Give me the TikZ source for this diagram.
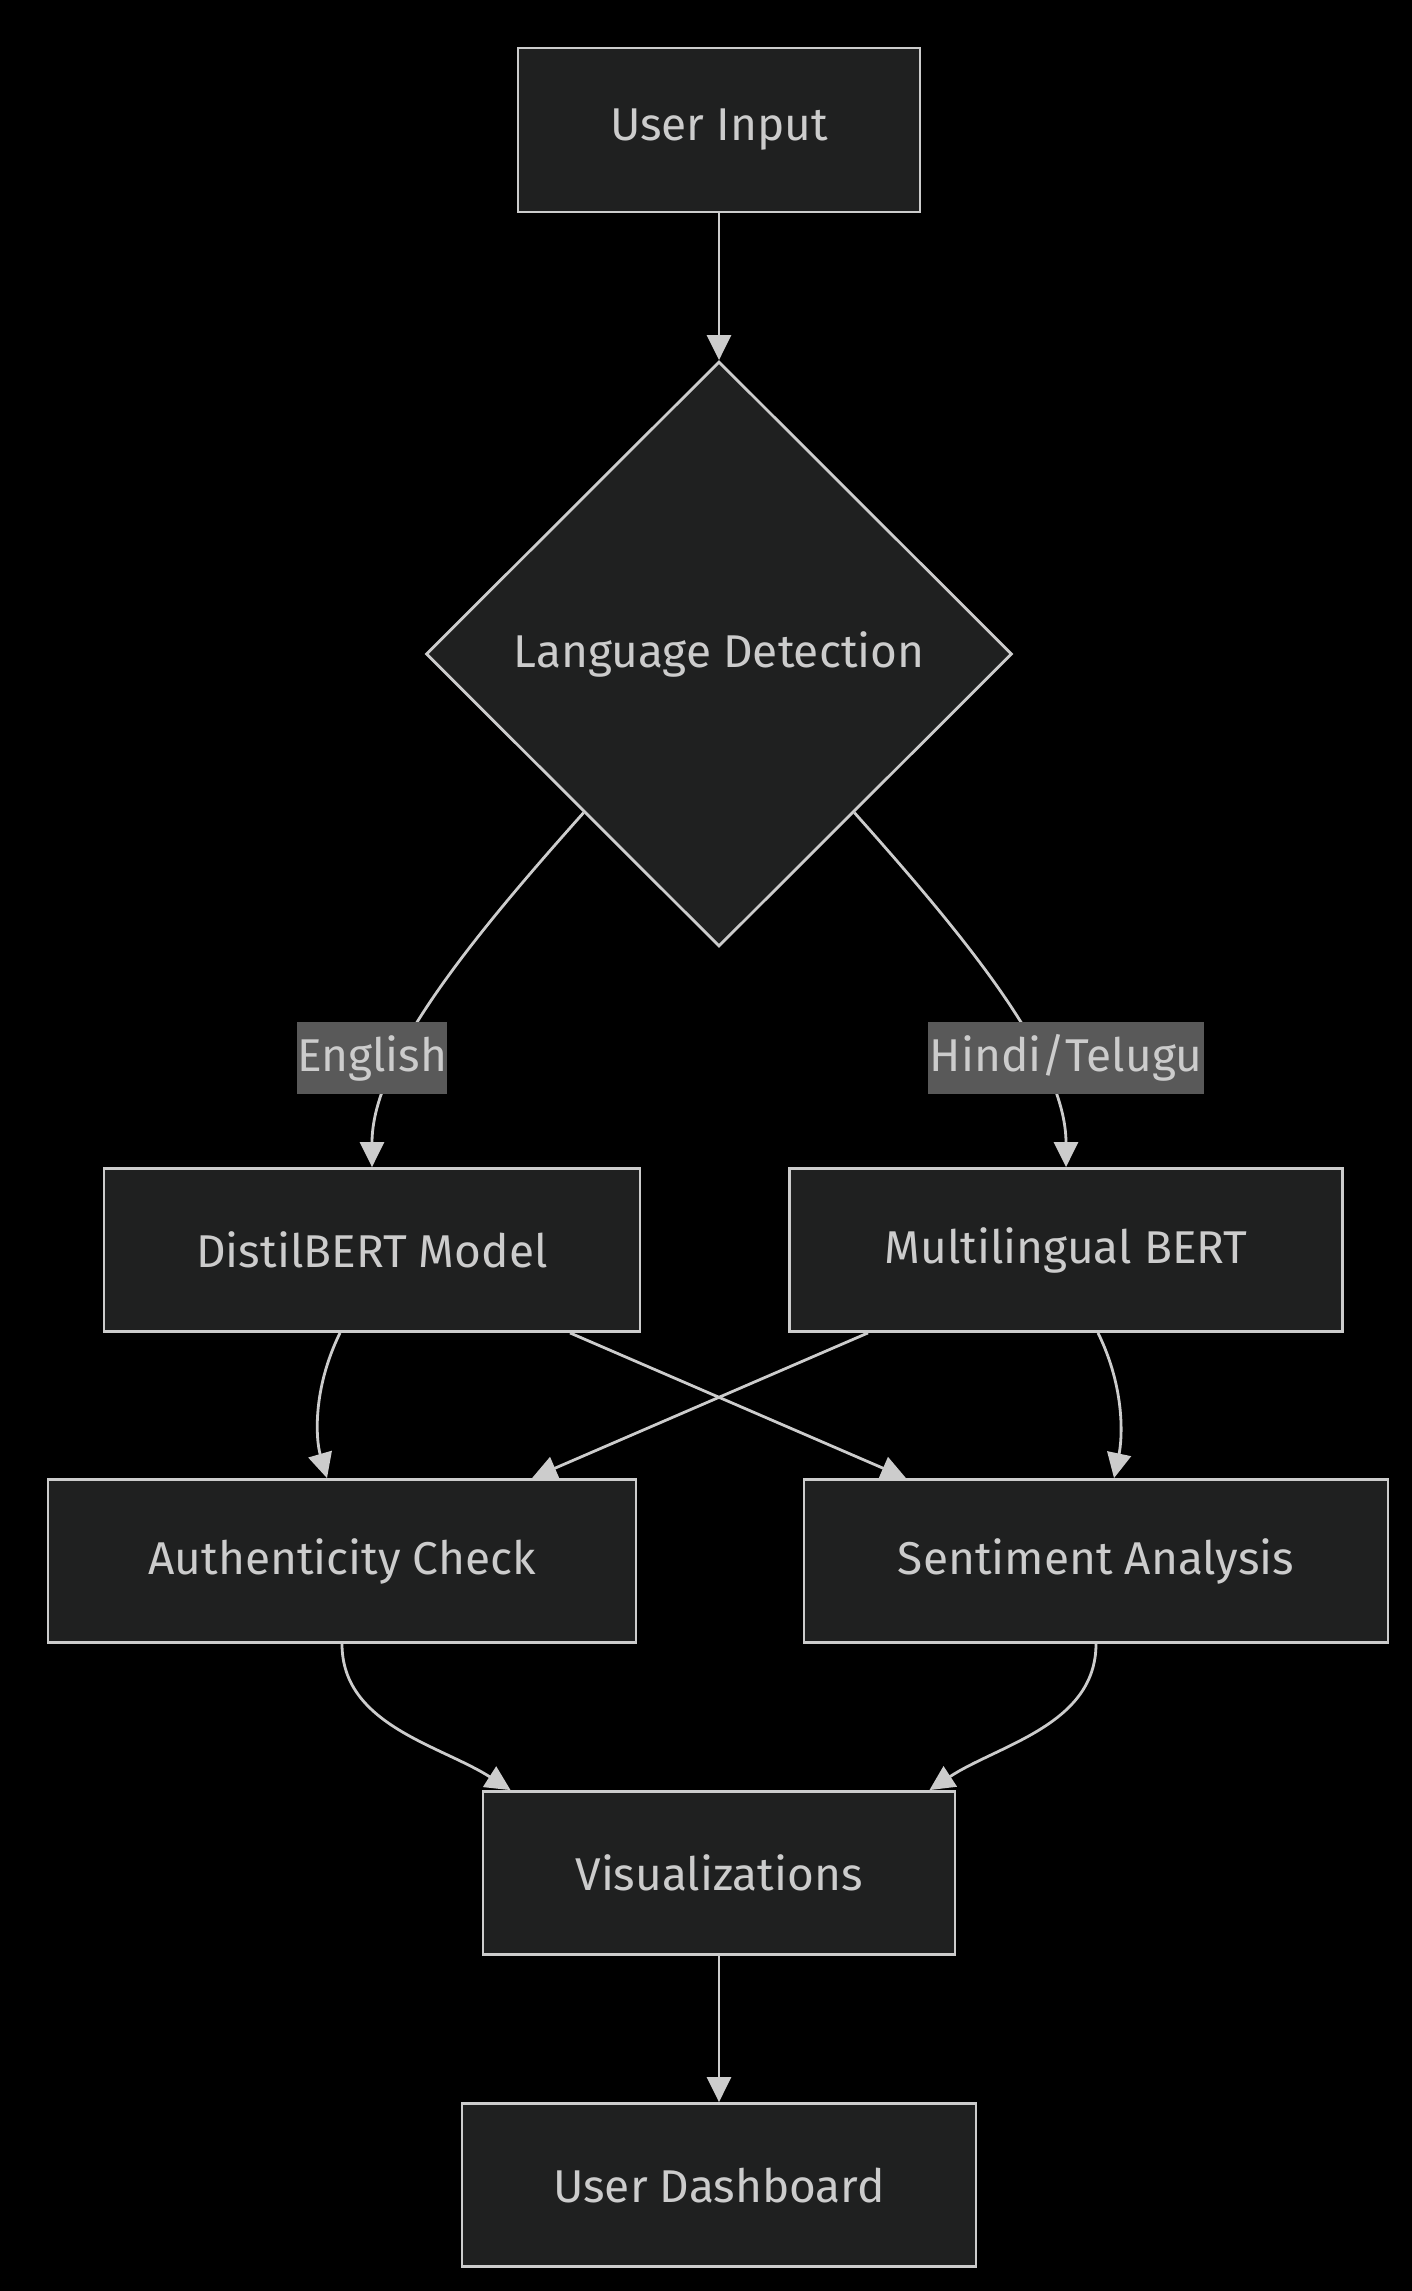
\documentclass[tikz,border=0pt]{standalone}
\usepackage{fontspec}
\setmainfont{Fira Sans}
\usetikzlibrary{shapes.geometric,arrows.meta,calc}
\definecolor{bgc}{HTML}{000000}
\definecolor{boxfill}{HTML}{1F2020}
\definecolor{linec}{HTML}{CCCCCC}
\definecolor{txtc}{HTML}{CCCCCC}
\definecolor{lblfill}{HTML}{595959}
\tikzset{
  box/.style={draw=linec, fill=boxfill, line width=2.8pt, inner sep=0pt, text=txtc,
    font=\fontsize{46}{54}\selectfont, minimum height=163pt},
  decide/.style={diamond, aspect=1, draw=linec, fill=boxfill, line width=2.8pt, inner sep=0pt,
    text=txtc, font=\fontsize{46}{54}\selectfont, minimum width=586pt, minimum height=585pt},
  elabel/.style={fill=lblfill, inner sep=0pt, text=txtc, font=\fontsize{46}{54}\selectfont,
    minimum height=72pt},
  conn/.style={draw=linec, line width=2.8pt, -{Triangle[length=25pt,width=24pt]}}
}
\begin{document}
\begin{tikzpicture}[x=1pt,y=-1pt]
\fill[bgc] (0,0) rectangle (1412,2291);
\useasboundingbox (0,0) rectangle (1412,2291);

\node[box, minimum width=402pt, minimum height=164pt] (inp) at (719,130) {User Input};
\node[decide] (lang) at (719,654) {Language Detection};
\node[box, minimum width=536pt] (dist) at (372,1250) {DistilBERT Model};
\node[box, minimum width=553pt] (mbert) at (1066,1250) {Multilingual BERT};
\node[box, minimum width=588pt] (auth) at (342,1561) {Authenticity Check};
\node[box, minimum width=584pt] (sent) at (1096,1561) {Sentiment Analysis};
\node[box, minimum width=472pt] (vis) at (719,1873) {Visualizations};
\node[box, minimum width=514pt] (dash) at (719,2185) {User Dashboard};

\draw[conn] (inp.south) -- (lang.north);

\coordinate (lsw) at ($(lang.west)!0.54!(lang.south)$);
\coordinate (lse) at ($(lang.east)!0.54!(lang.south)$);
\draw[conn] (lsw) .. controls (470,940) and (372,1060) .. (dist.north);
\draw[conn] (lse) .. controls (968,940) and (1066,1060) .. (mbert.north);
\node[elabel, minimum width=150pt] (lblen) at (372,1058) {English};
\node[elabel, minimum width=276pt] (lblhi) at (1066,1058) {Hindi/Telugu};

\draw[conn] ($(dist.south)+(-32,0)$) .. controls (312,1390) and (316,1440) .. ($(auth.north)+(-15,0)$);
\draw[conn] ($(dist.south)+(198,0)$) -- ($(sent.north)+(-190,0)$);
\draw[conn] ($(mbert.south)+(-198,0)$) -- ($(auth.north)+(190,0)$);
\draw[conn] ($(mbert.south)+(32,0)$) .. controls (1126,1390) and (1122,1440) .. ($(sent.north)+(18,0)$);

\draw[conn] (auth.south) .. controls (342,1725) and (440,1745) .. ($(vis.north west)+(29,0)$);
\draw[conn] (sent.south) .. controls (1096,1725) and (998,1745) .. ($(vis.north east)+(-27,0)$);

\draw[conn] (vis.south) -- (dash.north);
\end{tikzpicture}
\end{document}
